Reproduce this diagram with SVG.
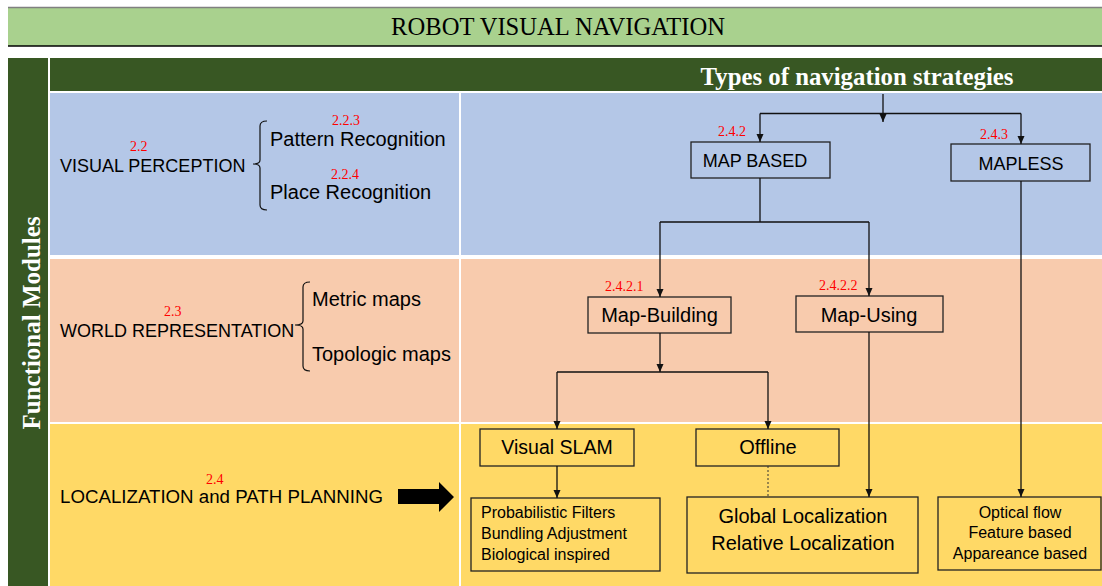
<svg xmlns="http://www.w3.org/2000/svg" width="1102" height="586" viewBox="0 0 1102 586">
<defs>
<style>
.sans{font-family:"Liberation Sans",Arial,sans-serif;fill:#000}
.serif{font-family:"Liberation Serif","Times New Roman",serif}
.red{font-family:"Liberation Serif","Times New Roman",serif;fill:#ff0000;font-size:14px}
.box{fill:none;stroke:#222;stroke-width:1.3}
.ln{fill:none;stroke:#111;stroke-width:1.3}
.arr{fill:none;stroke:#111;stroke-width:1.3;marker-end:url(#ah)}
.br{fill:none;stroke:#111;stroke-width:1.2}
</style>
<marker id="ah" markerUnits="userSpaceOnUse" markerWidth="8" markerHeight="8" refX="8" refY="3.5" orient="auto" viewBox="0 0 8 7">
<path d="M0,0 L8,3.5 L0,7 z" fill="#111"/>
</marker>
</defs>
<rect width="1102" height="586" fill="#fff"/>
<!-- title band -->
<g id="title">
<rect x="8" y="7" width="1094" height="39" fill="#a9d18e"/>
<line x1="8" y1="7.5" x2="1102" y2="7.5" stroke="#808080" stroke-width="1.5"/>
<line x1="8" y1="46" x2="1102" y2="46" stroke="#000" stroke-width="1.5"/>
<text x="558" y="35" text-anchor="middle" class="serif" font-size="24.6" fill="#000">ROBOT VISUAL NAVIGATION</text>
</g>
<!-- side column -->
<g id="functional-modules">
<rect x="8" y="58" width="40" height="528" fill="#385723"/>
<text transform="translate(40,323) rotate(-90)" text-anchor="middle" class="serif" font-size="25" font-weight="bold" fill="#fff">Functional Modules</text>
</g>
<!-- header band -->
<g id="strategies-header">
<rect x="50" y="58" width="1052" height="33" fill="#385723"/>
<text x="857" y="85" text-anchor="middle" class="serif" font-size="24.8" font-weight="bold" fill="#fff">Types of navigation strategies</text>
</g>
<!-- rows -->
<rect x="50" y="93" width="1052" height="162" fill="#b4c7e7"/>
<rect x="50" y="259" width="1052" height="163" fill="#f8cbad"/>
<rect x="50" y="424" width="1052" height="162" fill="#ffd966"/>
<rect x="459" y="93" width="2" height="493" fill="#fff"/>

<g id="visual-perception">
<text x="60" y="172" class="sans" font-size="18">VISUAL PERCEPTION</text>
<text x="130" y="151" class="red">2.2</text>
<path class="br" d="M267,121 Q260,121 260,126 L260,160 Q260,164 253,164 Q260,164 260,168 L260,205 Q260,210 267,210"/>
</g>
<g id="pattern-recognition">
<text x="270" y="146" class="sans" font-size="20">Pattern Recognition</text>
<text x="332" y="125" class="red">2.2.3</text>
</g>
<g id="place-recognition">
<text x="270" y="199" class="sans" font-size="20">Place Recognition</text>
<text x="331" y="179" class="red">2.2.4</text>
</g>

<g id="world-representation">
<text x="60" y="337" class="sans" font-size="18">WORLD REPRESENTATION</text>
<text x="164" y="316" class="red">2.3</text>
<path class="br" d="M310,282 Q303,282 303,287 L303,321 Q303,325 295,325 Q303,325 303,329 L303,366 Q303,371 310,371"/>
</g>
<g id="metric-maps">
<text x="312" y="306" class="sans" font-size="20">Metric maps</text>
</g>
<g id="topologic-maps">
<text x="312" y="361" class="sans" font-size="20">Topologic maps</text>
</g>

<g id="localization-path-planning">
<text x="60" y="503" class="sans" font-size="18.7">LOCALIZATION and PATH PLANNING</text>
<text x="206" y="484" class="red">2.4</text>
</g>

<g id="map-based">
<rect class="box" x="691" y="142" width="139" height="36"/>
<text x="755" y="167" text-anchor="middle" class="sans" font-size="18">MAP BASED</text>
<text x="718" y="136" class="red">2.4.2</text>
</g>
<g id="mapless">
<rect class="box" x="951" y="144" width="139" height="37"/>
<text x="1021" y="170" text-anchor="middle" class="sans" font-size="18">MAPLESS</text>
<text x="980" y="139" class="red">2.4.3</text>
</g>
<g id="map-building">
<rect class="box" x="588" y="297" width="143" height="36"/>
<text x="659.5" y="322" text-anchor="middle" class="sans" font-size="20">Map-Building</text>
<text x="605" y="291" class="red">2.4.2.1</text>
</g>
<g id="map-using">
<rect class="box" x="796" y="296" width="147" height="36"/>
<text x="869" y="322" text-anchor="middle" class="sans" font-size="20">Map-Using</text>
<text x="819" y="290" class="red">2.4.2.2</text>
</g>
<g id="visual-slam">
<rect class="box" x="480" y="429" width="154" height="37"/>
<text x="557" y="454" text-anchor="middle" class="sans" font-size="19.5">Visual SLAM</text>
</g>
<g id="offline">
<rect class="box" x="696" y="429" width="143" height="37"/>
<text x="768" y="454" text-anchor="middle" class="sans" font-size="20">Offline</text>
</g>
<g id="slam-methods">
<rect class="box" x="471" y="498" width="189" height="73"/>
<text x="481" y="518" class="sans" font-size="16">Probabilistic Filters</text>
<text x="481" y="539" class="sans" font-size="16">Bundling Adjustment</text>
<text x="481" y="560" class="sans" font-size="16">Biological inspired</text>
</g>
<g id="localization-types">
<rect class="box" x="687" y="497" width="231" height="76"/>
<text x="803" y="523" text-anchor="middle" class="sans" font-size="20">Global Localization</text>
<text x="803" y="550" text-anchor="middle" class="sans" font-size="20">Relative Localization</text>
</g>
<g id="mapless-methods">
<rect class="box" x="938" y="497" width="163" height="73"/>
<text x="1020" y="518" text-anchor="middle" class="sans" font-size="16">Optical flow</text>
<text x="1020" y="538" text-anchor="middle" class="sans" font-size="16">Feature based</text>
<text x="1020" y="559" text-anchor="middle" class="sans" font-size="16">Appareance based</text>
</g>

<g id="connectors">
<path class="arr" d="M883,94 L883,122"/>
<path class="ln" d="M760,113.5 L1021,113.5"/>
<path class="arr" d="M760,113.5 L760,142"/>
<path class="arr" d="M1021,113.5 L1021,144"/>
<path class="ln" d="M760,178 L760,222 M660,222 L869,222"/>
<path class="arr" d="M660,222 L660,297"/>
<path class="arr" d="M869,222 L869,296"/>
<path class="arr" d="M660,333 L660,372"/>
<path class="ln" d="M557,372 L768,372"/>
<path class="arr" d="M557,372 L557,429"/>
<path class="arr" d="M768,372 L768,429"/>
<path class="arr" d="M557,466 L557,498"/>
<path d="M768,466 L768,497" fill="none" stroke="#333" stroke-width="1" stroke-dasharray="2,2"/>
<path class="arr" d="M869,332 L869,497"/>
<path class="arr" d="M1021,181 L1021,497"/>
<polygon points="398,489 439,489 439,482 454,497 439,512 439,504 398,504" fill="#000"/>
</g>
</svg>
